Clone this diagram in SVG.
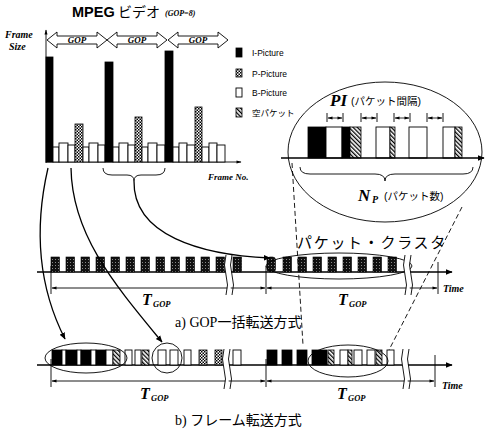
<svg xmlns="http://www.w3.org/2000/svg" width="485" height="430" viewBox="0 0 485 430">
<style>
.ln{stroke:#000;stroke-width:1.3;fill:none}
.thin{stroke:#000;stroke-width:0.9;fill:none}
.dash{stroke:#000;stroke-width:0.9;fill:none;stroke-dasharray:5 3}
.bk{fill:#000;stroke:#000;stroke-width:0.8}
.wh{fill:#fff;stroke:#000;stroke-width:0.9}
.p{fill:url(#chk);stroke:#000;stroke-width:0.8}
.h{fill:url(#hat);stroke:#000;stroke-width:0.8}
.d{fill:url(#dk);stroke:#000;stroke-width:0.6}
.sf{font-family:"Liberation Serif",serif;font-style:italic;font-weight:bold}
.ss{font-family:"Liberation Sans",Arial,sans-serif}
.jp{font-family:"Liberation Serif","Noto Sans CJK JP",serif}
.jps{font-family:"Liberation Sans","Noto Sans CJK JP",sans-serif}
</style>
<defs>
<pattern id="chk" width="3" height="3" patternUnits="userSpaceOnUse"><rect width="3" height="3" fill="#fff"/><rect width="1.5" height="1.5" fill="#000"/><rect x="1.5" y="1.5" width="1.5" height="1.5" fill="#000"/></pattern>
<pattern id="hat" width="3" height="3" patternUnits="userSpaceOnUse" patternTransform="rotate(-45)"><rect width="3" height="3" fill="#fff"/><rect width="1.3" height="3" fill="#000"/></pattern>
<pattern id="dk" width="3" height="3" patternUnits="userSpaceOnUse"><rect width="3" height="3" fill="#111"/><rect x="1" y="1" width="1" height="1" fill="#888"/></pattern>
<marker id="ar" viewBox="0 0 10 10" refX="9" refY="5" markerWidth="7" markerHeight="7" orient="auto-start-reverse" markerUnits="userSpaceOnUse"><path d="M0,1 L10,5 L0,9 z" fill="#000"/></marker>
<marker id="as" viewBox="0 0 10 10" refX="9" refY="5" markerWidth="6" markerHeight="5" orient="auto-start-reverse" markerUnits="userSpaceOnUse"><path d="M0,2 L10,5 L0,8 z" fill="#000"/></marker>
<g id="brk"><path d="M0,0 q-3,10 0,20 q3,10 0,20 L6,40 q-3,-10 0,-20 q-3,-10 0,-20 z" fill="#fff"/><path d="M0,0 q-3,10 0,20 q3,10 0,20 M6,0 q-3,10 0,20 q3,10 0,20" class="thin"/></g>
<path id="gop" d="M0,8 L10,0 L10,4 L50,4 L50,0 L60,8 L50,16 L50,12 L10,12 L10,16 z" fill="#fff" stroke="#000" stroke-width="0.9"/>
</defs>

<g id="title">
<text x="72" y="17" class="ss" font-size="14.5" font-weight="bold">MPEG</text>
<text x="118" y="17" class="jps" font-size="14">ビデオ</text>
<text x="165" y="16" class="sf" font-size="8">(GOP=8)</text>
</g>

<g id="chart">
<text x="5" y="38" class="sf" font-size="10">Frame</text>
<text x="9" y="50" class="sf" font-size="10">Size</text>
<line x1="46" y1="163" x2="46" y2="30" class="thin" marker-end="url(#as)"/>
<line x1="46" y1="162" x2="241" y2="162" class="thin" marker-end="url(#as)"/>
<use href="#gop" transform="translate(47,32)"/>
<use href="#gop" transform="translate(107,32)"/>
<use href="#gop" transform="translate(168,32)"/>
<text x="77" y="43" class="sf" font-size="9" font-weight="normal" text-anchor="middle">GOP</text>
<text x="137" y="43" class="sf" font-size="9" font-weight="normal" text-anchor="middle">GOP</text>
<text x="198" y="43" class="sf" font-size="9" font-weight="normal" text-anchor="middle">GOP</text>
<rect x="46" y="57" width="7" height="105" class="bk"/>
<rect x="53" y="147" width="6" height="15" class="wh"/>
<rect x="59" y="143" width="9" height="19" class="wh"/>
<rect x="68" y="145" width="7" height="17" class="wh"/>
<rect x="75" y="124" width="8" height="38" class="p"/>
<rect x="83" y="147" width="6" height="15" class="wh"/>
<rect x="89" y="143" width="9" height="19" class="wh"/>
<rect x="98" y="145" width="7" height="17" class="wh"/>
<rect x="105" y="62" width="8" height="100" class="bk"/>
<rect x="113" y="147" width="6" height="15" class="wh"/>
<rect x="119" y="143" width="9" height="19" class="wh"/>
<rect x="128" y="145" width="7" height="17" class="wh"/>
<rect x="135" y="117" width="7" height="45" class="p"/>
<rect x="142" y="147" width="6" height="15" class="wh"/>
<rect x="148" y="143" width="9" height="19" class="wh"/>
<rect x="157" y="145" width="8" height="17" class="wh"/>
<rect x="165" y="51" width="8" height="111" class="bk"/>
<rect x="173" y="147" width="6" height="15" class="wh"/>
<rect x="179" y="143" width="8" height="19" class="wh"/>
<rect x="187" y="145" width="8" height="17" class="wh"/>
<rect x="195" y="107" width="7" height="55" class="p"/>
<rect x="202" y="147" width="7" height="15" class="wh"/>
<rect x="209" y="143" width="8" height="19" class="wh"/>
<rect x="217" y="145" width="8" height="17" class="wh"/>
<text x="208" y="180" class="sf" font-size="9" font-weight="normal">Frame No.</text>
<path d="M103,168 Q103,175 112,175 L127,175 Q134,175 134,181 Q134,175 141,175 L156,175 Q165,175 165,168" class="thin"/>
</g>

<g id="legend">
<rect x="236" y="48" width="6" height="9" class="bk"/>
<text x="252" y="56" class="ss" font-size="8.5">I-Picture</text>
<rect x="236" y="69" width="6" height="8" class="p"/>
<text x="252" y="77" class="ss" font-size="8.5">P-Picture</text>
<rect x="236" y="88" width="6" height="9" class="wh"/>
<text x="252" y="96" class="ss" font-size="8.5">B-Picture</text>
<rect x="236" y="108" width="6" height="9" class="h"/>
<text x="252" y="116" class="jps" font-size="8.5">空パケット</text>
</g>

<g id="zoom">
<ellipse cx="385" cy="152" rx="97" ry="70" class="thin"/>
<text x="330" y="106" class="sf" font-size="17">PI</text>
<text x="351" y="105" class="jps" font-size="10.5">(パケット間隔)</text>
<g class="thin">
<path d="M327,113 v9 M343,113 v9 M361,113 v9 M377,113 v9 M394,113 v9 M410,113 v9 M427,113 v9 M443,113 v9"/>
</g>
<g stroke="#000" stroke-width="0.8">
<line x1="328" y1="118" x2="342" y2="118" marker-start="url(#as)" marker-end="url(#as)"/>
<line x1="362" y1="118" x2="376" y2="118" marker-start="url(#as)" marker-end="url(#as)"/>
<line x1="395" y1="118" x2="409" y2="118" marker-start="url(#as)" marker-end="url(#as)"/>
<line x1="428" y1="118" x2="442" y2="118" marker-start="url(#as)" marker-end="url(#as)"/>
</g>
<rect x="308" y="127" width="18" height="31" class="bk"/>
<rect x="326" y="127" width="16" height="31" class="wh"/>
<rect x="342" y="127" width="8" height="31" class="bk"/>
<rect x="350" y="127" width="11" height="31" class="h"/>
<rect x="376" y="127" width="14" height="31" class="wh"/>
<rect x="390" y="127" width="5" height="31" class="h"/>
<rect x="409" y="127" width="18" height="31" class="wh"/>
<rect x="443" y="127" width="12" height="31" class="wh"/>
<rect x="455" y="127" width="7" height="31" class="h"/>
<line x1="281" y1="158" x2="484" y2="158" class="ln" marker-end="url(#ar)"/>
<path d="M300,167 Q300,174 310,174 L375,174 Q385,174 385,181 Q385,174 395,174 L463,174 Q473,174 473,167" class="thin"/>
<text x="358" y="201" class="sf" font-size="17">N</text>
<text x="372" y="203" class="sf" font-size="10">P</text>
<text x="384" y="200" class="jps" font-size="10.5">(パケット数)</text>
</g>

<g id="timelineA">
<line x1="37" y1="272" x2="452" y2="272" class="ln" marker-end="url(#ar)"/>
<g class="d">
<rect x="51" y="257" width="8.5" height="15"/><rect x="66" y="257" width="8.5" height="15"/><rect x="81" y="257" width="8.5" height="15"/><rect x="96" y="257" width="8.5" height="15"/><rect x="111" y="257" width="8.5" height="15"/><rect x="126" y="257" width="8.5" height="15"/><rect x="141" y="257" width="8.5" height="15"/><rect x="156" y="257" width="8.5" height="15"/><rect x="171" y="257" width="8.5" height="15"/><rect x="186" y="257" width="8.5" height="15"/><rect x="201" y="257" width="8.5" height="15"/><rect x="216" y="257" width="8.5" height="15"/><rect x="233" y="257" width="8.5" height="15"/>
<rect x="267" y="257" width="8.5" height="15" rx="3"/><rect x="283" y="257" width="8.5" height="15"/><rect x="298" y="257" width="8.5" height="15"/><rect x="313" y="257" width="8.5" height="15"/><rect x="328" y="257" width="8.5" height="15"/><rect x="343" y="257" width="8.5" height="15"/><rect x="358" y="257" width="8.5" height="15"/><rect x="373" y="257" width="8.5" height="15"/><rect x="388" y="257" width="8.5" height="15"/>
</g>
<ellipse cx="339" cy="266" rx="73" ry="13" class="thin"/>
<path d="M51,266 V294 M266,266 V294 M438,262 V294" class="thin"/>
<line x1="52" y1="288" x2="265" y2="288" class="thin" marker-start="url(#as)" marker-end="url(#as)"/>
<line x1="267" y1="288" x2="437" y2="288" class="thin" marker-start="url(#as)" marker-end="url(#as)"/>
<use href="#brk" transform="translate(226,255)"/>
<use href="#brk" transform="translate(405,255)"/>
<text x="142" y="305" class="sf" font-size="16">T</text>
<text x="153" y="307" class="sf" font-size="8.5">GOP</text>
<text x="338" y="305" class="sf" font-size="16">T</text>
<text x="349" y="307" class="sf" font-size="8.5">GOP</text>
<text x="443" y="292" class="sf" font-size="10" font-weight="normal">Time</text>
<text x="297" y="248" class="jps" font-size="15" letter-spacing="1.7">パケット・クラスタ</text>
<text x="175" y="327" class="jp" font-size="14">a) GOP一括転送方式</text>
</g>

<g id="timelineB">
<line x1="37" y1="365" x2="452" y2="365" class="ln" marker-end="url(#ar)"/>
<rect x="52" y="350" width="10" height="15" class="bk"/>
<rect x="62" y="350" width="4" height="15" class="wh"/>
<rect x="66" y="350" width="11" height="15" class="bk"/>
<rect x="77" y="350" width="4" height="15" class="wh"/>
<rect x="81" y="350" width="10" height="15" class="bk"/>
<rect x="91" y="350" width="5" height="15" class="wh"/>
<rect x="96" y="350" width="10" height="15" class="bk"/>
<rect x="106" y="350" width="7" height="15" class="wh"/>
<rect x="113" y="350" width="7" height="15" class="h"/>
<rect x="125" y="350" width="7" height="15" class="wh"/>
<rect x="135" y="350" width="6" height="15" class="wh"/>
<rect x="142" y="350" width="7" height="15" class="h"/>
<rect x="158" y="350" width="8" height="15" class="wh"/>
<rect x="170" y="350" width="8" height="15" class="wh"/>
<rect x="184" y="350" width="7" height="15" class="wh"/>
<rect x="199" y="350" width="8" height="15" class="p"/>
<rect x="215" y="350" width="7" height="15" class="p"/>
<rect x="233" y="350" width="8" height="15" class="wh"/>
<rect x="267" y="350" width="10" height="15" class="bk"/>
<rect x="282" y="350" width="10" height="15" class="bk"/>
<rect x="297" y="350" width="10" height="15" class="bk"/>
<rect x="312" y="350" width="15" height="15" class="bk"/>
<rect x="328" y="350" width="6" height="15" class="h"/>
<rect x="340" y="350" width="8" height="15" class="wh"/>
<rect x="348" y="350" width="4" height="15" class="h"/>
<rect x="354" y="350" width="8" height="15" class="wh"/>
<rect x="367" y="350" width="8" height="15" class="wh"/>
<rect x="376" y="350" width="6" height="15" class="h"/>
<rect x="387" y="350" width="7" height="15" class="wh"/>
<ellipse cx="86" cy="358" rx="41" ry="15" class="thin"/>
<circle cx="167" cy="358" r="15" class="thin"/>
<ellipse cx="348" cy="361" rx="40" ry="16" class="thin"/>
<path d="M51,359 V387 M266,359 V387 M435,355 V387" class="thin"/>
<line x1="52" y1="381" x2="265" y2="381" class="thin" marker-start="url(#as)" marker-end="url(#as)"/>
<line x1="267" y1="381" x2="434" y2="381" class="thin" marker-start="url(#as)" marker-end="url(#as)"/>
<use href="#brk" transform="translate(224,349)"/>
<use href="#brk" transform="translate(403,349)"/>
<text x="140" y="399" class="sf" font-size="16">T</text>
<text x="151" y="401" class="sf" font-size="8.5">GOP</text>
<text x="337" y="399" class="sf" font-size="16">T</text>
<text x="348" y="401" class="sf" font-size="8.5">GOP</text>
<text x="442" y="389" class="sf" font-size="10" font-weight="normal">Time</text>
<text x="175" y="425" class="jp" font-size="14">b) フレーム転送方式</text>
</g>

<g id="connectors">
<path d="M48,168 C36,220 35,280 65,339" class="ln" marker-end="url(#ar)"/>
<path d="M71,168 C72,235 115,285 162,342" class="ln" marker-end="url(#ar)"/>
<path d="M134,181 C133,235 200,255 270,258" class="ln" marker-end="url(#ar)"/>
<path d="M292,163 L303,345" class="dash"/>
<path d="M462,207 L389,350" class="dash"/>
</g>
</svg>
